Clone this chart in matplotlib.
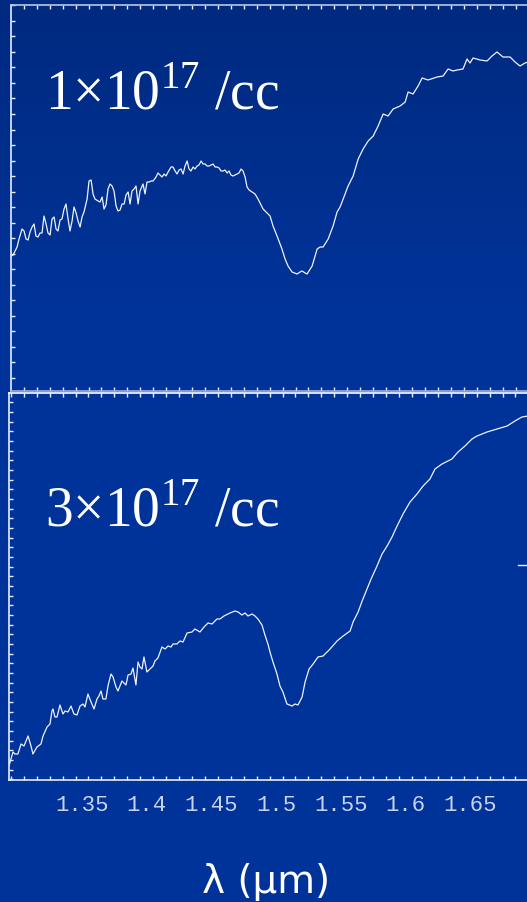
import numpy as np
import matplotlib
matplotlib.use('Agg')
import matplotlib.pyplot as plt
from matplotlib.ticker import MultipleLocator, FixedLocator, NullFormatter
from matplotlib.lines import Line2D

plt.rcParams['mathtext.fontset'] = 'custom'
plt.rcParams['mathtext.rm'] = 'Liberation Serif'

# transmission spectra, arbitrary units, wavelength in um
wl_1e17 = [1.2951, 1.2967, 1.2998, 1.3013, 1.3036, 1.3052, 1.3067, 1.3083, 1.3098, 1.3114,
           1.3129, 1.3144, 1.3160, 1.3175, 1.3191, 1.3206, 1.3222, 1.3237, 1.3253, 1.3268,
           1.3284, 1.3299, 1.3314, 1.3330, 1.3345, 1.3361, 1.3376, 1.3392, 1.3407, 1.3423,
           1.3438, 1.3454, 1.3469, 1.3485, 1.3500, 1.3515, 1.3539, 1.3554, 1.3570, 1.3585,
           1.3600, 1.3624, 1.3639, 1.3655, 1.3670, 1.3685, 1.3701, 1.3716, 1.3732, 1.3747,
           1.3763, 1.3778, 1.3794, 1.3809, 1.3825, 1.3840, 1.3856, 1.3871, 1.3886, 1.3902,
           1.3917, 1.3933, 1.3948, 1.3971, 1.3987, 1.4002, 1.4018, 1.4033, 1.4049, 1.4072,
           1.4087, 1.4103, 1.4118, 1.4134, 1.4149, 1.4165, 1.4188, 1.4203, 1.4219, 1.4234,
           1.4250, 1.4265, 1.4281, 1.4296, 1.4312, 1.4327, 1.4342, 1.4358, 1.4373, 1.4389,
           1.4404, 1.4420, 1.4435, 1.4451, 1.4466, 1.4482, 1.4497, 1.4513, 1.4528, 1.4544,
           1.4559, 1.4574, 1.4590, 1.4605, 1.4621, 1.4636, 1.4651, 1.4667, 1.4682, 1.4698,
           1.4713, 1.4729, 1.4744, 1.4760, 1.4775, 1.4791, 1.4814, 1.4837, 1.4860, 1.4899,
           1.4930, 1.4953, 1.4976, 1.5007, 1.5045, 1.5069, 1.5092, 1.5123, 1.5162, 1.5185,
           1.5201, 1.5224, 1.5239, 1.5278, 1.5317, 1.5340, 1.5363, 1.5402, 1.5440, 1.5471,
           1.5494, 1.5518, 1.5556, 1.5595, 1.5634, 1.5672, 1.5711, 1.5750, 1.5788, 1.5827,
           1.5865, 1.5904, 1.5958, 1.5997, 1.6020, 1.6058, 1.6097, 1.6128, 1.6174, 1.6244,
           1.6290, 1.6329, 1.6367, 1.6398, 1.6444, 1.6475, 1.6498, 1.6522, 1.6576, 1.6630,
           1.6668, 1.6707, 1.6753, 1.6808, 1.6846, 1.6885, 1.6923, 1.6947]
tr_1e17 = [135, 136, 144, 152, 162, 160, 152, 151, 159, 164,
           167, 155, 154, 158, 158, 175, 167, 158, 156, 172,
           174, 162, 160, 171, 172, 182, 187, 172, 160, 170,
           184, 178, 170, 164, 174, 179, 192, 210, 211, 197,
           192, 190, 189, 194, 182, 186, 202, 207, 205, 200,
           185, 180, 181, 187, 187, 196, 199, 187, 200, 202,
           205, 187, 200, 207, 197, 209, 209, 210, 210, 214,
           218, 216, 214, 217, 215, 219, 224, 224, 220, 217,
           221, 222, 217, 225, 230, 222, 220, 224, 222, 225,
           226, 230, 227, 227, 225, 225, 226, 227, 224, 224,
           223, 220, 220, 221, 218, 220, 216, 215, 216, 217,
           218, 222, 220, 214, 204, 201, 199, 197, 192, 182,
           178, 175, 165, 155, 142, 132, 125, 119, 117, 119,
           120, 118, 117, 125, 142, 144, 144, 152, 165, 179,
           184, 192, 205, 215, 232, 242, 250, 255, 265, 277,
           275, 282, 285, 289, 299, 297, 305, 313, 311, 314,
           315, 322, 320, 321, 322, 332, 328, 333, 331, 330,
           335, 339, 334, 334, 329, 325, 328, 329]

wl_3e17 = [1.2936, 1.2951, 1.2967, 1.2982, 1.3005, 1.3029, 1.3052, 1.3083, 1.3106, 1.3121,
           1.3152, 1.3183, 1.3199, 1.3230, 1.3253, 1.3268, 1.3276, 1.3291, 1.3307, 1.3330,
           1.3353, 1.3369, 1.3392, 1.3415, 1.3438, 1.3461, 1.3485, 1.3508, 1.3523, 1.3546,
           1.3570, 1.3593, 1.3616, 1.3631, 1.3647, 1.3662, 1.3685, 1.3701, 1.3724, 1.3740,
           1.3763, 1.3778, 1.3809, 1.3817, 1.3840, 1.3856, 1.3879, 1.3894, 1.3917, 1.3933,
           1.3948, 1.3964, 1.3979, 1.4002, 1.4025, 1.4049, 1.4064, 1.4087, 1.4118, 1.4142,
           1.4165, 1.4188, 1.4203, 1.4234, 1.4257, 1.4281, 1.4312, 1.4350, 1.4373, 1.4412,
           1.4443, 1.4474, 1.4505, 1.4543, 1.4566, 1.4597, 1.4644, 1.4682, 1.4706, 1.4737,
           1.4760, 1.4783, 1.4814, 1.4837, 1.4860, 1.4891, 1.4914, 1.4937, 1.4953, 1.4976,
           1.5007, 1.5030, 1.5053, 1.5084, 1.5123, 1.5146, 1.5169, 1.5201, 1.5224, 1.5255,
           1.5286, 1.5324, 1.5363, 1.5417, 1.5471, 1.5518, 1.5572, 1.5595, 1.5634, 1.5665,
           1.5703, 1.5734, 1.5780, 1.5819, 1.5858, 1.5896, 1.5935, 1.5981, 1.6035, 1.6089,
           1.6136, 1.6189, 1.6228, 1.6282, 1.6359, 1.6406, 1.6460, 1.6514, 1.6553, 1.6630,
           1.6707, 1.6785, 1.6846, 1.6900, 1.6947]
tr_3e17 = [14, 21, 28, 26, 26, 36, 34, 44, 34, 26,
           33, 36, 44, 53, 56, 69, 71, 63, 63, 75,
           66, 69, 68, 74, 66, 65, 74, 76, 73, 86,
           78, 71, 81, 84, 89, 81, 81, 94, 106, 103,
           93, 89, 99, 98, 95, 105, 106, 112, 95, 118,
           113, 111, 123, 108, 111, 114, 119, 122, 133, 131,
           134, 133, 136, 136, 139, 138, 147, 148, 151, 148,
           153, 157, 156, 161, 161, 164, 167, 169, 168, 165,
           167, 164, 166, 164, 161, 155, 145, 136, 128, 118,
           106, 94, 88, 76, 74, 76, 75, 83, 98, 111,
           116, 123, 124, 131, 139, 144, 149, 158, 168, 179,
           191, 201, 214, 226, 234, 243, 254, 266, 278, 286,
           294, 301, 311, 316, 321, 328, 334, 341, 344, 348,
           351, 354, 359, 363, 364]

tick_wl = [1.35, 1.4, 1.45, 1.5, 1.55, 1.6, 1.65]
tick_text = ['1.35', '1.4', '1.45', '1.5', '1.55', '1.6', '1.65']
panel_labels = [r'1×10$^{17}$ /cc', r'3×10$^{17}$ /cc']

W, H = 527, 903
fig = plt.figure(figsize=(W / 100, H / 100), dpi=100)

# dark-to-blue slide background
bg = fig.add_axes([0, 0, 1, 1], zorder=-10)
top_c = np.array([0.0, 0.165, 0.50])
bot_c = np.array([0.0, 0.20, 0.60])
t = np.clip(np.linspace(0, 1, H) / 0.35, 0, 1)[:, None]
grad = top_c[None, :] * (1 - t) + bot_c[None, :] * t
bg.imshow(grad[:, None, :].repeat(2, axis=1), aspect='auto', extent=[0, 1, 0, 1])
bg.axis('off')

spine_c = '#e6ecf8'
line_c = '#eef2fa'
label_c = '#c9d3ec'

scale = 1294.0  # px per um
x_right = 1.75


def setup(ax, ymin_tick, ystep, ymax, side_c_top, side_c_bottom):
    ax.set_facecolor('none')
    ax.set_ylim(0, ymax)
    ax.spines['right'].set_visible(False)
    ax.spines['left'].set_color(spine_c)
    ax.spines['top'].set_color(side_c_top)
    ax.spines['bottom'].set_color(side_c_bottom)
    for s in ax.spines.values():
        s.set_linewidth(1.2)
    ax.xaxis.set_major_locator(FixedLocator(tick_wl))
    ax.xaxis.set_minor_locator(MultipleLocator(0.01, offset=0.005))
    ax.yaxis.set_major_locator(MultipleLocator(ystep, offset=ymin_tick))
    ax.yaxis.set_major_formatter(NullFormatter())
    ax.tick_params(axis='x', which='major', length=0, top=True, bottom=True)
    ax.tick_params(axis='x', which='minor', direction='in', length=3, width=1,
                   color=spine_c, top=True, bottom=True)
    ax.tick_params(axis='y', which='major', direction='in', length=3, width=1,
                   color=spine_c, left=True, right=False)


# upper panel
x0_top = 1.2951
ax1 = fig.add_axes([11 / W, 1 - 392 / H, (x_right - x0_top) * scale / W, 386 / H])
ax1.set_xlim(x0_top, x_right)
setup(ax1, 13, 15.53, 386, '#b9c5e6', '#9fb0dc')
ax1.xaxis.set_major_formatter(NullFormatter())
ax1.plot(wl_1e17, tr_1e17, color=line_c, lw=0.9)

# lower panel
x0_bot = 1.2936
ax2 = fig.add_axes([9 / W, 1 - 781 / H, (x_right - x0_bot) * scale / W, 387 / H])
ax2.set_xlim(x0_bot, x_right)
setup(ax2, 20, 9.67, 387, '#ffffff', spine_c)
ax2.set_xticklabels(tick_text)
ax2.tick_params(axis='x', which='major', pad=10, labelsize=16, labelcolor=label_c)
for lab in ax2.get_xticklabels():
    lab.set_family('Liberation Mono')
ax2.plot(wl_3e17, tr_3e17, color=line_c, lw=0.9)

fig.add_artist(Line2D([518 / W, 1], [1 - 566 / H, 1 - 566 / H], color=line_c, lw=1))

fig.text(45 / W, 1 - 110 / H, panel_labels[0], fontsize=40, color='white',
         family='Liberation Serif', va='baseline', ha='left')
fig.text(45 / W, 1 - 527 / H, panel_labels[1], fontsize=40, color='white',
         family='Liberation Serif', va='baseline', ha='left')
fig.text(266 / W, 1 - 893 / H, 'λ (µm)', fontsize=28, color='white',
         family='DejaVu Sans', va='baseline', ha='center')

fig.savefig('out.png', dpi=100, facecolor=fig.get_facecolor())
